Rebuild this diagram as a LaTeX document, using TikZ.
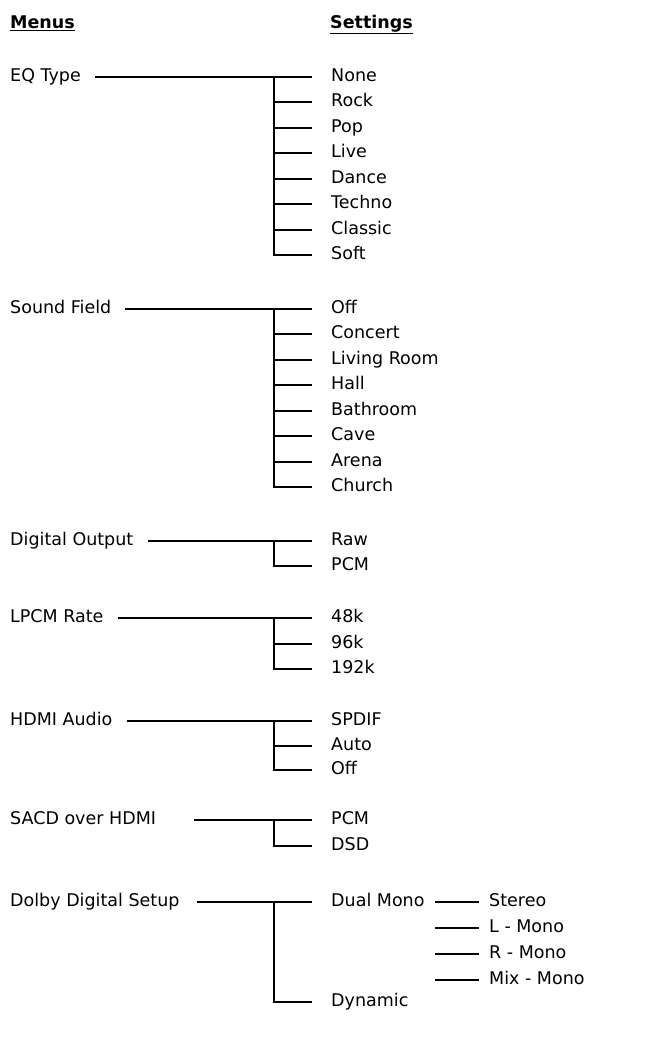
\documentclass[tikz,border=0pt]{standalone}
\usepackage{fontspec}
\setmainfont{DejaVu Sans}
\usetikzlibrary{positioning}

\begin{document}
\begin{tikzpicture}[x=1pt, y=-1pt,
    every node/.style={font=\fontsize{17.5}{20}\selectfont, inner sep=0pt, text height=13pt, text depth=4pt},
    menu/.style={anchor=west},
    setting/.style={anchor=west},
    link/.style={line width=1.3pt, shorten <=14pt, shorten >=19pt},
    branch/.style={line width=1.3pt, shorten >=19pt}]
  \useasboundingbox (0,0) rectangle (648,1042);

  % Headers
  \node[menu] (hmenus) at (10,24) {\underline{\textbf{Menus}}};
  \node[setting] (hsettings) at (330,24) {\underline{\textbf{Settings}}};

  % EQ Type
  \node[menu] (eq) at (10,77) {EQ Type};
  \node[setting] (eq1) at (331,77) {None};
  \node[setting] (eq2) at (331,102) {Rock};
  \node[setting] (eq3) at (331,128) {Pop};
  \node[setting] (eq4) at (331,153) {Live};
  \node[setting] (eq5) at (331,179) {Dance};
  \node[setting] (eq6) at (331,204) {Techno};
  \node[setting] (eq7) at (331,230) {Classic};
  \node[setting] (eq8) at (331,255) {Soft};
  \coordinate (eqT) at (274,77);
  \draw[link] (eq) -- (eq1);
  \foreach \i in {2,...,8} \draw[branch] (eqT) |- (eq\i);

  % Sound Field
  \node[menu] (sf) at (10,309) {Sound Field};
  \node[setting] (sf1) at (331,309) {Off};
  \node[setting] (sf2) at (331,334) {Concert};
  \node[setting] (sf3) at (331,360) {Living Room};
  \node[setting] (sf4) at (331,385) {Hall};
  \node[setting] (sf5) at (331,411) {Bathroom};
  \node[setting] (sf6) at (331,436) {Cave};
  \node[setting] (sf7) at (331,462) {Arena};
  \node[setting] (sf8) at (331,487) {Church};
  \coordinate (sfT) at (274,309);
  \draw[link] (sf) -- (sf1);
  \foreach \i in {2,...,8} \draw[branch] (sfT) |- (sf\i);

  % Digital Output
  \node[menu] (do) at (10,541) {Digital Output};
  \node[setting] (do1) at (331,541) {Raw};
  \node[setting] (do2) at (331,566) {PCM};
  \coordinate (doT) at (274,541);
  \draw[link] (do) -- (do1);
  \draw[branch] (doT) |- (do2);

  % LPCM Rate
  \node[menu] (lp) at (10,618) {LPCM Rate};
  \node[setting] (lp1) at (331,618) {48k};
  \node[setting] (lp2) at (331,644) {96k};
  \node[setting] (lp3) at (331,669) {192k};
  \coordinate (lpT) at (274,618);
  \draw[link] (lp) -- (lp1);
  \foreach \i in {2,3} \draw[branch] (lpT) |- (lp\i);

  % HDMI Audio
  \node[menu] (ha) at (10,721) {HDMI Audio};
  \node[setting] (ha1) at (331,721) {SPDIF};
  \node[setting] (ha2) at (331,746) {Auto};
  \node[setting] (ha3) at (331,770) {Off};
  \coordinate (haT) at (274,721);
  \draw[link] (ha) -- (ha1);
  \foreach \i in {2,3} \draw[branch] (haT) |- (ha\i);

  % SACD over HDMI
  \node[menu] (sa) at (10,820) {SACD over HDMI};
  \node[setting] (sa1) at (331,820) {PCM};
  \node[setting] (sa2) at (331,846) {DSD};
  \coordinate (saT) at (274,820);
  \draw[link, shorten <=38pt] (sa) -- (sa1);
  \draw[branch] (saT) |- (sa2);

  % Dolby Digital Setup
  \node[menu] (dd) at (10,902) {Dolby Digital Setup};
  \node[setting] (dd1) at (331,902) {Dual Mono};
  \node[setting] (dd2) at (331,1002) {Dynamic};
  \coordinate (ddT) at (274,902);
  \draw[link, shorten <=17pt] (dd) -- (dd1);
  \draw[branch] (ddT) |- (dd2);

  % Dual Mono options
  \node[setting] (dm1) at (489,902) {Stereo};
  \node[setting] (dm2) at (489,928) {L - Mono};
  \node[setting] (dm3) at (489,954) {R - Mono};
  \node[setting] (dm4) at (489,980) {Mix - Mono};
  \coordinate (dmL) at (435,902);
  \draw[line width=1.3pt, shorten >=10pt] (dmL) -- (dm1);
  \foreach \i in {2,3,4} \draw[line width=1.3pt, shorten >=10pt] (dmL |- dm\i) -- (dm\i);
\end{tikzpicture}
\end{document}
